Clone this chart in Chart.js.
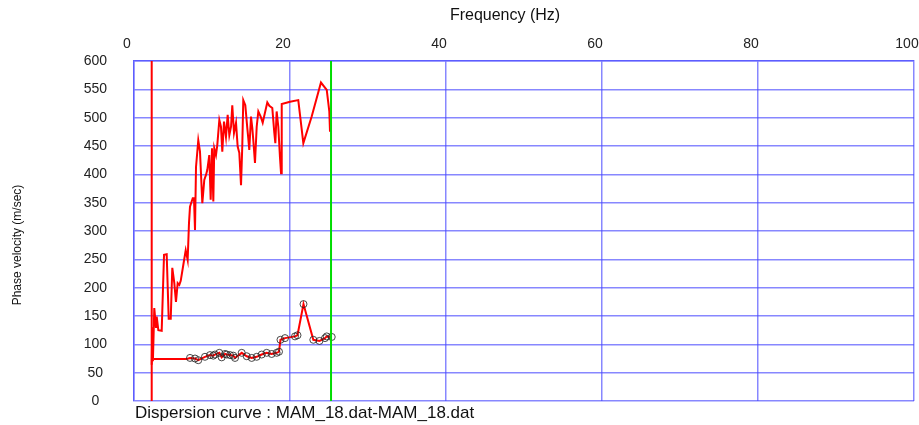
<!DOCTYPE html>
<html>
<head>
<meta charset="utf-8">
<script src="https://cdn.jsdelivr.net/npm/chart.js@4.4.1/dist/chart.umd.min.js"></script>
<style>
  html, body { margin: 0; padding: 0; background: #fff; }
  #wrap { width: 919px; height: 425px; }
</style>
</head>
<body>
<div id="wrap"><canvas id="main-chart" width="919" height="425"></canvas></div>
<script>
// upper (raw) curve: frequency in Hz, phase velocity in m/sec
var upperFreq = [2.27, 2.35, 2.42, 2.5, 2.6, 2.82, 2.91, 3.12, 3.55, 3.85, 4.19, 4.45, 4.71, 4.91, 5.17, 5.38, 5.60, 5.81, 5.99, 6.32,
    6.63, 6.88, 7.05, 7.18, 7.53, 7.69, 7.82, 7.95, 8.24, 8.46, 8.76, 9.01, 9.23, 9.40, 9.65, 9.83, 10.0, 10.17, 10.29, 10.51,
    10.68, 10.94, 11.15, 11.32, 11.54, 11.79, 12.01, 12.22, 12.44, 12.60, 12.82, 13.08, 13.29, 13.50, 13.72, 13.88, 14.01, 14.27, 14.53, 14.65,
    14.78, 15.0, 15.17, 15.29, 15.51, 15.73, 15.94, 16.24, 16.50, 17.09, 17.35, 17.73, 17.99, 18.12, 18.29, 18.50, 18.72, 18.85, 18.94, 20.0,
    21.06, 21.71, 22.78, 23.97, 24.71, 24.91, 25.04, 25.13];
var upperVel = [64, 130, 70, 110, 164, 129, 149, 125, 124, 258, 259, 145, 145, 235, 208, 175, 208, 205, 212, 240,
    266, 249, 314, 343, 358, 358, 302, 413, 460, 440, 349, 390, 399, 408, 434, 355, 446, 352, 446, 434,
    452, 496, 484, 440, 493, 466, 505, 469, 484, 522, 473, 491, 449, 438, 381, 449, 531, 522, 481, 464,
    443, 502, 481, 461, 420, 484, 511, 502, 491, 527, 521, 517, 473, 455, 511, 484, 429, 402, 524, 528,
    531, 455, 502, 562, 549, 526, 511, 475];

// picked dispersion curve
var curveFreq = [2.56, 6.76, 7.18, 7.82, 8.24, 9.10, 9.74, 10.17, 10.38, 10.94, 11.24, 11.67, 11.88, 12.31, 12.73, 12.95, 13.81, 14.45, 15.09, 15.73,
    16.37, 17.01, 17.65, 18.29, 18.59, 18.78, 19.36, 20.64, 20.96, 21.73, 22.99, 23.78, 24.49, 24.71, 25.35];
var curveVel = [74, 74, 76, 75, 72, 78, 81, 80, 82, 85, 77, 83, 82, 81, 80, 76, 85, 79, 76, 78,
    82, 85, 83, 85, 87, 108, 111, 114, 116, 171, 108, 106, 111, 114, 113];

// frequency limits (red = min, green = max)
var minFreq = 2.27;
var maxFreq = 25.26;

var xTicks = [0, 20, 40, 60, 80, 100];
var yTicks = [0, 50, 100, 150, 200, 250, 300, 350, 400, 450, 500, 550, 600];

var caption = 'Dispersion curve : MAM_18.dat-MAM_18.dat';
var xTitle = 'Frequency (Hz)';
var yTitle = 'Phase velocity (m/sec)';

function toPoints(xs, ys) {
    return xs.map(function (x, i) { return { x: x, y: ys[i] }; });
}

var gridBlue = 'rgba(70,70,255,0.65)';
var font = 'Liberation Sans, Arial, sans-serif';

var textPlugin = {
    id: 'texts',
    afterDraw: function (chart) {
        var ctx = chart.ctx;
        ctx.save();
        ctx.fillStyle = '#111';
        ctx.textBaseline = 'middle';
        ctx.textAlign = 'center';
        ctx.font = '16px ' + font;
        ctx.fillText(xTitle, 505, 16);
        ctx.textAlign = 'left';
        ctx.font = '17px ' + font;
        ctx.fillText(caption, 135, 413);
        ctx.translate(18, 245);
        ctx.rotate(-Math.PI / 2);
        ctx.textAlign = 'center';
        ctx.font = '12px ' + font;
        ctx.fillText(yTitle, 0, 0);
        ctx.restore();
    }
};

var chartDegree = document.querySelector('#main-chart').getContext('2d');
var myChart = new Chart(chartDegree, {
    type: 'scatter',
    data: {
        datasets: [{
            data: toPoints([minFreq, minFreq], [0, 600]),
            showLine: true,
            borderColor: '#ff0000',
            borderWidth: 2,
            pointRadius: 0
        }, {
            data: toPoints([maxFreq, maxFreq], [0, 600]),
            showLine: true,
            borderColor: '#00dd00',
            borderWidth: 2,
            pointRadius: 0
        }, {
            data: toPoints(upperFreq, upperVel),
            showLine: true,
            borderColor: '#ff0000',
            borderWidth: 2,
            pointRadius: 0
        }, {
            data: toPoints(curveFreq, curveVel),
            showLine: true,
            borderColor: '#ff0000',
            borderWidth: 2,
            pointRadius: function (c) { return c.dataIndex < 2 ? 0 : 3.5; },
            pointBorderColor: 'rgba(40,40,40,0.85)',
            pointBackgroundColor: 'rgba(0,0,0,0)',
            pointBorderWidth: 1
        }]
    },
    options: {
        responsive: false,
        animation: false,
        layout: { padding: { top: 0, left: 0, right: 4, bottom: 24 } },
        plugins: {
            legend: { display: false },
            tooltip: { enabled: false }
        },
        scales: {
            x: {
                type: 'linear',
                position: 'top',
                min: 0,
                max: 100,
                afterBuildTicks: function (s) { s.ticks = xTicks.map(function (v) { return { value: v }; }); },
                afterFit: function (s) { s.height = 61; s.paddingLeft = 0; s.paddingRight = 0; },
                ticks: { color: '#222', font: { family: font, size: 14 }, padding: 8, labelOffset: -7, maxRotation: 0 },
                grid: { color: gridBlue, lineWidth: 1.5, drawTicks: false },
                border: { color: gridBlue, width: 1.5 }
            },
            y: {
                min: 0,
                max: 600,
                afterBuildTicks: function (s) { s.ticks = yTicks.map(function (v) { return { value: v }; }); },
                afterFit: function (s) { s.width = 134; s.paddingTop = 0; s.paddingBottom = 0; },
                ticks: { color: '#222', font: { family: font, size: 14 }, padding: 27, crossAlign: 'center' },
                grid: { color: gridBlue, lineWidth: 1.5, drawTicks: false },
                border: { color: gridBlue, width: 1.5 }
            }
        }
    },
    plugins: [textPlugin]
});
</script>
</body>
</html>
